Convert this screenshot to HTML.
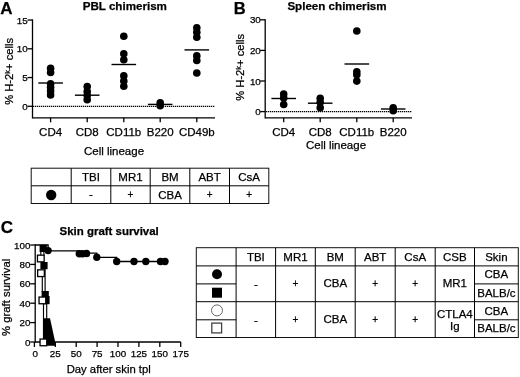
<!DOCTYPE html>
<html><head><meta charset="utf-8"><title>Figure</title>
<style>
html,body{margin:0;padding:0;background:#fff;}
body{width:520px;height:377px;overflow:hidden;font-family:"Liberation Sans",sans-serif;}
svg{display:block;}
#w{width:520px;height:377px;transform:translateZ(0);will-change:transform;}
svg text{font-family:"Liberation Sans",sans-serif;fill:#000;stroke:#000;stroke-width:0.25px;}
</style></head><body>
<div id="w"><svg width="520" height="377" viewBox="0 0 520 377">
<rect x="0" y="0" width="520" height="377" fill="#fff"/>
<text x="0.3" y="14" text-anchor="start" font-size="17" font-weight="bold" >A</text>
<text x="124.8" y="9.5" text-anchor="middle" font-size="11.6" font-weight="bold" >PBL chimerism</text>
<line x1="32.5" y1="19.35" x2="32.5" y2="118.45" stroke="#000" stroke-width="1.3" />
<line x1="32.5" y1="117.8" x2="215" y2="117.8" stroke="#000" stroke-width="1.3" />
<line x1="27.5" y1="106.3" x2="32.5" y2="106.3" stroke="#000" stroke-width="1.3" />
<text x="27.7" y="109.89999999999999" text-anchor="end" font-size="9.8" >0</text>
<line x1="27.5" y1="77.55" x2="32.5" y2="77.55" stroke="#000" stroke-width="1.3" />
<text x="27.7" y="81.14999999999999" text-anchor="end" font-size="9.8" >5</text>
<line x1="27.5" y1="48.8" x2="32.5" y2="48.8" stroke="#000" stroke-width="1.3" />
<text x="27.7" y="52.4" text-anchor="end" font-size="9.8" >10</text>
<line x1="27.5" y1="20.049999999999997" x2="32.5" y2="20.049999999999997" stroke="#000" stroke-width="1.3" />
<text x="27.7" y="23.65" text-anchor="end" font-size="9.8" >15</text>
<line x1="33" y1="106.3" x2="215" y2="106.3" stroke="#000" stroke-width="1.3" stroke-dasharray="1.3 0.7"/>
<line x1="50.6" y1="117.8" x2="50.6" y2="122.3" stroke="#000" stroke-width="1.3" />
<text x="50.6" y="136.4" text-anchor="middle" font-size="11.5" >CD4</text>
<line x1="87.2" y1="117.8" x2="87.2" y2="122.3" stroke="#000" stroke-width="1.3" />
<text x="87.2" y="136.4" text-anchor="middle" font-size="11.5" >CD8</text>
<line x1="123.8" y1="117.8" x2="123.8" y2="122.3" stroke="#000" stroke-width="1.3" />
<text x="123.8" y="136.4" text-anchor="middle" font-size="11.5" >CD11b</text>
<line x1="160.2" y1="117.8" x2="160.2" y2="122.3" stroke="#000" stroke-width="1.3" />
<text x="160.2" y="136.4" text-anchor="middle" font-size="11.5" >B220</text>
<line x1="196.8" y1="117.8" x2="196.8" y2="122.3" stroke="#000" stroke-width="1.3" />
<text x="196.8" y="136.4" text-anchor="middle" font-size="11.5" >CD49b</text>
<text x="114" y="155" text-anchor="middle" font-size="11.5" >Cell lineage</text>
<text transform="translate(12.7,71.4) rotate(-90)" text-anchor="middle" font-size="11.2">% H-2<tspan font-size="7.5" dy="-2.9">k</tspan><tspan dy="2.9">+ cells</tspan></text>
<circle cx="50.6" cy="68.2" r="3.8" fill="#000"/>
<circle cx="50.6" cy="72.5" r="3.8" fill="#000"/>
<circle cx="50.6" cy="83.7" r="3.8" fill="#000"/>
<circle cx="50.6" cy="87.3" r="3.8" fill="#000"/>
<circle cx="50.6" cy="90.9" r="3.8" fill="#000"/>
<circle cx="50.6" cy="94.9" r="3.8" fill="#000"/>
<line x1="38.3" y1="83.0" x2="62.900000000000006" y2="83.0" stroke="#000" stroke-width="1.4" />
<circle cx="87.2" cy="86.6" r="3.8" fill="#000"/>
<circle cx="87.2" cy="91.6" r="3.8" fill="#000"/>
<circle cx="87.2" cy="95.6" r="3.8" fill="#000"/>
<circle cx="87.2" cy="99.7" r="3.8" fill="#000"/>
<line x1="74.9" y1="95.2" x2="99.5" y2="95.2" stroke="#000" stroke-width="1.4" />
<circle cx="123.8" cy="36.3" r="3.8" fill="#000"/>
<circle cx="123.8" cy="53.8" r="3.8" fill="#000"/>
<circle cx="123.8" cy="59.8" r="3.8" fill="#000"/>
<circle cx="123.8" cy="75.8" r="3.8" fill="#000"/>
<circle cx="123.8" cy="81.0" r="3.8" fill="#000"/>
<circle cx="123.8" cy="86.3" r="3.8" fill="#000"/>
<line x1="111.5" y1="64.5" x2="136.1" y2="64.5" stroke="#000" stroke-width="1.4" />
<circle cx="160.2" cy="102.9" r="3.8" fill="#000"/>
<circle cx="160.2" cy="105.7" r="3.8" fill="#000"/>
<line x1="147.89999999999998" y1="104.4" x2="172.5" y2="104.4" stroke="#000" stroke-width="1.4" />
<circle cx="196.8" cy="27.7" r="3.8" fill="#000"/>
<circle cx="196.8" cy="32.2" r="3.8" fill="#000"/>
<circle cx="196.8" cy="37.3" r="3.8" fill="#000"/>
<circle cx="196.8" cy="55.9" r="3.8" fill="#000"/>
<circle cx="196.8" cy="60.5" r="3.8" fill="#000"/>
<circle cx="196.8" cy="73.0" r="3.8" fill="#000"/>
<line x1="184.5" y1="49.9" x2="209.10000000000002" y2="49.9" stroke="#000" stroke-width="1.4" />
<text x="233.8" y="14" text-anchor="start" font-size="16.5" font-weight="bold" >B</text>
<text x="337" y="9.5" text-anchor="middle" font-size="11.6" font-weight="bold" >Spleen chimerism</text>
<line x1="265.2" y1="19.150000000000002" x2="265.2" y2="118.45" stroke="#000" stroke-width="1.3" />
<line x1="265.2" y1="117.8" x2="412" y2="117.8" stroke="#000" stroke-width="1.3" />
<line x1="260.2" y1="111.6" x2="265.2" y2="111.6" stroke="#000" stroke-width="1.3" />
<text x="260.8" y="115.19999999999999" text-anchor="end" font-size="9.8" >0</text>
<line x1="260.2" y1="81.0" x2="265.2" y2="81.0" stroke="#000" stroke-width="1.3" />
<text x="260.8" y="84.6" text-anchor="end" font-size="9.8" >10</text>
<line x1="260.2" y1="50.39999999999999" x2="265.2" y2="50.39999999999999" stroke="#000" stroke-width="1.3" />
<text x="260.8" y="53.99999999999999" text-anchor="end" font-size="9.8" >20</text>
<line x1="260.2" y1="19.799999999999997" x2="265.2" y2="19.799999999999997" stroke="#000" stroke-width="1.3" />
<text x="260.8" y="23.4" text-anchor="end" font-size="9.8" >30</text>
<line x1="266" y1="111.6" x2="412" y2="111.6" stroke="#000" stroke-width="1.3" stroke-dasharray="1.3 0.7"/>
<line x1="283.7" y1="117.8" x2="283.7" y2="122.3" stroke="#000" stroke-width="1.3" />
<text x="283.7" y="136.2" text-anchor="middle" font-size="11.5" >CD4</text>
<line x1="320.2" y1="117.8" x2="320.2" y2="122.3" stroke="#000" stroke-width="1.3" />
<text x="320.2" y="136.2" text-anchor="middle" font-size="11.5" >CD8</text>
<line x1="356.8" y1="117.8" x2="356.8" y2="122.3" stroke="#000" stroke-width="1.3" />
<text x="356.8" y="136.2" text-anchor="middle" font-size="11.5" >CD11b</text>
<line x1="393.2" y1="117.8" x2="393.2" y2="122.3" stroke="#000" stroke-width="1.3" />
<text x="393.2" y="136.2" text-anchor="middle" font-size="11.5" >B220</text>
<text x="336" y="148.8" text-anchor="middle" font-size="11.5" >Cell lineage</text>
<text transform="translate(243.6,67.3) rotate(-90)" text-anchor="middle" font-size="11.2">% H-2<tspan font-size="7.5" dy="-2.9">k</tspan><tspan dy="2.9">+ cells</tspan></text>
<circle cx="283.7" cy="94.0" r="3.8" fill="#000"/>
<circle cx="283.7" cy="97.9" r="3.8" fill="#000"/>
<circle cx="283.7" cy="104.5" r="3.8" fill="#000"/>
<line x1="271.4" y1="98.5" x2="296.0" y2="98.5" stroke="#000" stroke-width="1.4" />
<circle cx="320.2" cy="98.2" r="3.8" fill="#000"/>
<circle cx="320.2" cy="102.2" r="3.8" fill="#000"/>
<circle cx="320.2" cy="107.8" r="3.8" fill="#000"/>
<line x1="307.9" y1="103.2" x2="332.5" y2="103.2" stroke="#000" stroke-width="1.4" />
<circle cx="356.8" cy="31.0" r="3.8" fill="#000"/>
<circle cx="356.8" cy="71.8" r="3.8" fill="#000"/>
<circle cx="356.8" cy="74.8" r="3.8" fill="#000"/>
<circle cx="356.8" cy="81.1" r="3.8" fill="#000"/>
<line x1="344.5" y1="64.0" x2="369.1" y2="64.0" stroke="#000" stroke-width="1.4" />
<circle cx="393.2" cy="107.8" r="3.8" fill="#000"/>
<circle cx="393.2" cy="110.8" r="3.8" fill="#000"/>
<line x1="380.9" y1="109.0" x2="405.5" y2="109.0" stroke="#000" stroke-width="1.4" />
<rect x="31.2" y="168.2" width="237.60000000000002" height="35.30000000000001" fill="none" stroke="#111" stroke-width="1"/>
<line x1="31.2" y1="185.8" x2="268.8" y2="185.8" stroke="#000" stroke-width="1.0" />
<line x1="71.2" y1="168.2" x2="71.2" y2="203.5" stroke="#000" stroke-width="1.0" />
<line x1="110.8" y1="168.2" x2="110.8" y2="203.5" stroke="#000" stroke-width="1.0" />
<line x1="150.2" y1="168.2" x2="150.2" y2="203.5" stroke="#000" stroke-width="1.0" />
<line x1="189.8" y1="168.2" x2="189.8" y2="203.5" stroke="#000" stroke-width="1.0" />
<line x1="229.5" y1="168.2" x2="229.5" y2="203.5" stroke="#000" stroke-width="1.0" />
<text x="91.0" y="181.3" text-anchor="middle" font-size="11.5" >TBI</text>
<text x="91.0" y="198.4" text-anchor="middle" font-size="11.5" >-</text>
<text x="130.5" y="181.3" text-anchor="middle" font-size="11.5" >MR1</text>
<text x="130.5" y="198.3" text-anchor="middle" font-size="10" >+</text>
<text x="170.0" y="181.3" text-anchor="middle" font-size="11.5" >BM</text>
<text x="170.0" y="198.8" text-anchor="middle" font-size="11.5" >CBA</text>
<text x="209.65" y="181.3" text-anchor="middle" font-size="11.5" >ABT</text>
<text x="209.65" y="198.3" text-anchor="middle" font-size="10" >+</text>
<text x="249.15" y="181.3" text-anchor="middle" font-size="11.5" >CsA</text>
<text x="249.15" y="198.3" text-anchor="middle" font-size="10" >+</text>
<circle cx="51.2" cy="195" r="5.2" fill="#000"/>
<text x="0.8" y="233.2" text-anchor="start" font-size="17" font-weight="bold" >C</text>
<text x="109.2" y="234.5" text-anchor="middle" font-size="11.45" font-weight="bold" >Skin graft survival</text>
<line x1="35.2" y1="244.35" x2="35.2" y2="342.65" stroke="#000" stroke-width="1.3" />
<line x1="35.2" y1="342" x2="180.8" y2="342" stroke="#000" stroke-width="1.3" />
<line x1="30.200000000000003" y1="342.0" x2="35.2" y2="342.0" stroke="#000" stroke-width="1.3" />
<text x="30.400000000000002" y="345.6" text-anchor="end" font-size="9.8" >0</text>
<line x1="30.200000000000003" y1="322.6" x2="35.2" y2="322.6" stroke="#000" stroke-width="1.3" />
<text x="30.400000000000002" y="326.20000000000005" text-anchor="end" font-size="9.8" >20</text>
<line x1="30.200000000000003" y1="303.2" x2="35.2" y2="303.2" stroke="#000" stroke-width="1.3" />
<text x="30.400000000000002" y="306.8" text-anchor="end" font-size="9.8" >40</text>
<line x1="30.200000000000003" y1="283.8" x2="35.2" y2="283.8" stroke="#000" stroke-width="1.3" />
<text x="30.400000000000002" y="287.40000000000003" text-anchor="end" font-size="9.8" >60</text>
<line x1="30.200000000000003" y1="264.4" x2="35.2" y2="264.4" stroke="#000" stroke-width="1.3" />
<text x="30.400000000000002" y="268.0" text-anchor="end" font-size="9.8" >80</text>
<line x1="30.200000000000003" y1="245.0" x2="35.2" y2="245.0" stroke="#000" stroke-width="1.3" />
<text x="30.400000000000002" y="248.6" text-anchor="end" font-size="9.8" >100</text>
<line x1="34.4" y1="342" x2="34.4" y2="347" stroke="#000" stroke-width="1.3" />
<text x="35.3" y="357" text-anchor="middle" font-size="9.8" >0</text>
<line x1="55.3" y1="342" x2="55.3" y2="347" stroke="#000" stroke-width="1.3" />
<text x="55.3" y="357" text-anchor="middle" font-size="9.8" >25</text>
<line x1="76.19999999999999" y1="342" x2="76.19999999999999" y2="347" stroke="#000" stroke-width="1.3" />
<text x="76.19999999999999" y="357" text-anchor="middle" font-size="9.8" >50</text>
<line x1="97.1" y1="342" x2="97.1" y2="347" stroke="#000" stroke-width="1.3" />
<text x="97.1" y="357" text-anchor="middle" font-size="9.8" >75</text>
<line x1="118.0" y1="342" x2="118.0" y2="347" stroke="#000" stroke-width="1.3" />
<text x="118.0" y="357" text-anchor="middle" font-size="9.8" >100</text>
<line x1="138.9" y1="342" x2="138.9" y2="347" stroke="#000" stroke-width="1.3" />
<text x="138.9" y="357" text-anchor="middle" font-size="9.8" >125</text>
<line x1="159.79999999999998" y1="342" x2="159.79999999999998" y2="347" stroke="#000" stroke-width="1.3" />
<text x="159.79999999999998" y="357" text-anchor="middle" font-size="9.8" >150</text>
<line x1="180.7" y1="342" x2="180.7" y2="347" stroke="#000" stroke-width="1.3" />
<text x="180.7" y="357" text-anchor="middle" font-size="9.8" >175</text>
<text x="108.7" y="373.4" text-anchor="middle" font-size="11.3" >Day after skin tpl</text>
<text transform="translate(10.3,297.3) rotate(-90)" text-anchor="middle" font-size="11.3">% graft survival</text>
<polyline fill="none" stroke="#000" stroke-width="1.3" points="35.2,245 48.1,245 48.1,250.8 79.3,250.8 79.3,253.2 96.8,253.2 96.8,257.3 116.7,257.3 116.7,261.5 165,261.5"/>
<circle cx="48.1" cy="250.6" r="3.7" fill="#000"/>
<circle cx="79.3" cy="253.7" r="3.7" fill="#000"/>
<circle cx="82.5" cy="253.8" r="3.7" fill="#000"/>
<circle cx="86.5" cy="253.5" r="3.7" fill="#000"/>
<circle cx="96.8" cy="257.3" r="3.7" fill="#000"/>
<circle cx="116.7" cy="261.5" r="3.7" fill="#000"/>
<circle cx="134" cy="261.5" r="3.7" fill="#000"/>
<circle cx="145.8" cy="261.5" r="3.7" fill="#000"/>
<circle cx="160.5" cy="261.5" r="3.7" fill="#000"/>
<circle cx="165" cy="261.5" r="3.7" fill="#000"/>
<line x1="40.8" y1="251" x2="40.8" y2="256" stroke="#000" stroke-width="1.15" />
<line x1="43.9" y1="251" x2="43.9" y2="256" stroke="#000" stroke-width="1.15" />
<line x1="42.3" y1="276" x2="42.3" y2="292" stroke="#000" stroke-width="1.15" />
<line x1="45.1" y1="268" x2="45.1" y2="292" stroke="#000" stroke-width="1.15" />
<line x1="43.5" y1="304" x2="43.5" y2="342" stroke="#000" stroke-width="1.15" />
<line x1="46.7" y1="303" x2="46.7" y2="320" stroke="#000" stroke-width="1.15" />
<rect x="39.6" y="244.8" width="7.2" height="7.2" fill="#000"/>
<rect x="40.4" y="262.0" width="7.2" height="7.2" fill="#000"/>
<rect x="41.6" y="291" width="7.2" height="8" fill="#000"/>
<rect x="42.5" y="296" width="7.1" height="8.2" fill="#000"/>
<polygon points="43.0,318.2 50.0,318.2 56.0,345.8 43.0,345.8" fill="#000"/>
<rect x="37.449999999999996" y="255.15" width="6.7" height="6.7" fill="#fff" stroke="#000" stroke-width="1.3"/>
<rect x="37.65" y="269.84999999999997" width="6.7" height="6.7" fill="#fff" stroke="#000" stroke-width="1.3"/>
<rect x="39.05" y="297.04999999999995" width="6.7" height="6.7" fill="#fff" stroke="#000" stroke-width="1.3"/>
<rect x="40.05" y="339.04999999999995" width="6.7" height="6.7" fill="#fff" stroke="#000" stroke-width="1.3"/>
<rect x="196.3" y="247.7" width="321.99999999999994" height="89.80000000000001" fill="none" stroke="#111" stroke-width="1"/>
<line x1="236.1" y1="247.7" x2="236.1" y2="337.5" stroke="#000" stroke-width="1.0" />
<line x1="275.6" y1="247.7" x2="275.6" y2="337.5" stroke="#000" stroke-width="1.0" />
<line x1="315.3" y1="247.7" x2="315.3" y2="337.5" stroke="#000" stroke-width="1.0" />
<line x1="355.2" y1="247.7" x2="355.2" y2="337.5" stroke="#000" stroke-width="1.0" />
<line x1="395.2" y1="247.7" x2="395.2" y2="337.5" stroke="#000" stroke-width="1.0" />
<line x1="435.2" y1="247.7" x2="435.2" y2="337.5" stroke="#000" stroke-width="1.0" />
<line x1="474.5" y1="247.7" x2="474.5" y2="337.5" stroke="#000" stroke-width="1.0" />
<line x1="196.3" y1="265.9" x2="518.3" y2="265.9" stroke="#000" stroke-width="1.0" />
<line x1="196.3" y1="301.7" x2="518.3" y2="301.7" stroke="#000" stroke-width="1.0" />
<line x1="196.3" y1="283.9" x2="236.1" y2="283.9" stroke="#000" stroke-width="1.0" />
<line x1="474.5" y1="283.9" x2="518.3" y2="283.9" stroke="#000" stroke-width="1.0" />
<line x1="196.3" y1="319.8" x2="236.1" y2="319.8" stroke="#000" stroke-width="1.0" />
<line x1="474.5" y1="319.8" x2="518.3" y2="319.8" stroke="#000" stroke-width="1.0" />
<text x="255.85000000000002" y="260.5" text-anchor="middle" font-size="11.5" >TBI</text>
<text x="295.45000000000005" y="260.5" text-anchor="middle" font-size="11.5" >MR1</text>
<text x="335.25" y="260.5" text-anchor="middle" font-size="11.5" >BM</text>
<text x="375.2" y="260.5" text-anchor="middle" font-size="11.5" >ABT</text>
<text x="415.2" y="260.5" text-anchor="middle" font-size="11.5" >CsA</text>
<text x="454.85" y="260.5" text-anchor="middle" font-size="11.5" >CSB</text>
<text x="496.4" y="260.5" text-anchor="middle" font-size="11.5" >Skin</text>
<text x="255.85000000000002" y="287.5" text-anchor="middle" font-size="11.5" >-</text>
<text x="255.85000000000002" y="323.5" text-anchor="middle" font-size="11.5" >-</text>
<text x="295.45000000000005" y="286.9" text-anchor="middle" font-size="10" >+</text>
<text x="295.45000000000005" y="322.9" text-anchor="middle" font-size="10" >+</text>
<text x="335.25" y="287.0" text-anchor="middle" font-size="11.5" >CBA</text>
<text x="335.25" y="323.0" text-anchor="middle" font-size="11.5" >CBA</text>
<text x="375.2" y="286.9" text-anchor="middle" font-size="10" >+</text>
<text x="375.2" y="322.9" text-anchor="middle" font-size="10" >+</text>
<text x="415.2" y="286.9" text-anchor="middle" font-size="10" >+</text>
<text x="415.2" y="322.9" text-anchor="middle" font-size="10" >+</text>
<text x="454.85" y="287.3" text-anchor="middle" font-size="11.5" >MR1</text>
<text x="454.85" y="317.5" text-anchor="middle" font-size="11.5" >CTLA4</text>
<text x="454.85" y="330" text-anchor="middle" font-size="11.5" >Ig</text>
<text x="496.4" y="278.3" text-anchor="middle" font-size="11.5" >CBA</text>
<text x="496.4" y="296.6" text-anchor="middle" font-size="11.5" >BALB/c</text>
<text x="496.4" y="314.6" text-anchor="middle" font-size="11.5" >CBA</text>
<text x="496.4" y="332.4" text-anchor="middle" font-size="11.5" >BALB/c</text>
<circle cx="217" cy="274.3" r="5" fill="#000"/>
<rect x="212.0" y="287.7" width="10" height="10" fill="#000"/>
<circle cx="217" cy="310.4" r="5.5" fill="#fff" stroke="#444" stroke-width="0.8"/>
<rect x="211.79999999999998" y="323.1" width="9.8" height="9.8" fill="#fff" stroke="#444" stroke-width="1.3"/>
</svg></div>
</body></html>
